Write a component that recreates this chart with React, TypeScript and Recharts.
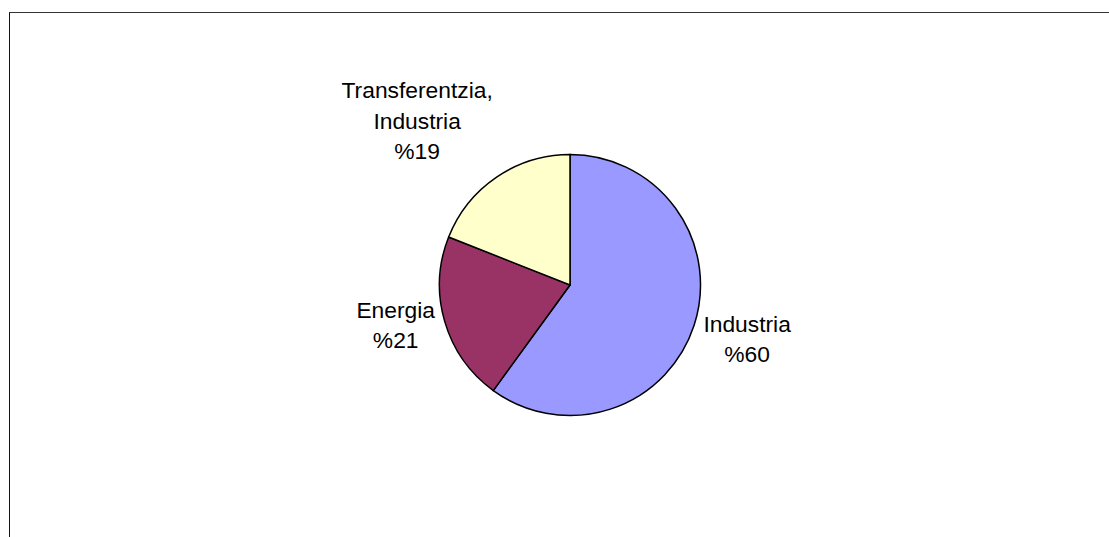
import { Cell, Pie, PieChart } from "recharts";

const sectors = ["Industria", "Energia", "Transferentzia, Industria"];
const shares = [60, 21, 19];
const colors = ["#9999FF", "#993366", "#FFFFCC"];

const data = sectors.map((name, i) => ({ name, value: shares[i] }));

// label box nudges, relative to the point on the rim at the slice's mid angle
const nudge: Record<string, { dx: number; dy: number }> = {
  Industria: { dx: 53, dy: 6.5 },
  Energia: { dx: -49, dy: -3.5 },
  "Transferentzia, Industria": { dx: -79.5, dy: -79 },
};

const RAD = Math.PI / 180;

function renderLabel(props: any) {
  const { cx, cy, midAngle, outerRadius, name, value } = props;
  const x = cx + outerRadius * Math.cos(-midAngle * RAD);
  const y = cy + outerRadius * Math.sin(-midAngle * RAD);
  const n = nudge[name] ?? { dx: 0, dy: 0 };
  const lines =
    name.indexOf(",") >= 0
      ? [name.split(",")[0] + ",", name.split(",")[1].trim()]
      : [name];
  lines.push(`%${value}`);
  const tx = x + n.dx;
  return (
    <text
      x={tx}
      y={y + n.dy}
      textAnchor="middle"
      fill="#000"
      fontSize={22.8}
      fontFamily="'Liberation Sans', Arial, sans-serif"
    >
      {lines.map((l, i) => (
        <tspan key={i} x={tx} dy={i === 0 ? 0 : 30.5}>
          {l}
        </tspan>
      ))}
    </text>
  );
}

export default function App() {
  return (
    <div
      style={{
        position: "absolute",
        left: 0,
        top: 0,
        width: 1109,
        height: 537,
        overflow: "hidden",
        background: "#fff",
      }}
    >
      <div
        style={{
          position: "absolute",
          left: 9,
          top: 12,
          width: 1200,
          height: 600,
          borderLeft: "1px solid #111",
          borderTop: "1.5px solid #333",
        }}
      />
      <div style={{ position: "absolute", left: 0, top: 0 }}>
        <PieChart
          width={1109}
          height={537}
          margin={{ top: 0, right: 0, bottom: 0, left: 0 }}
        >
          <Pie
            data={data}
            dataKey="value"
            nameKey="name"
            cx={570}
            cy={285}
            outerRadius={130.5}
            startAngle={90}
            endAngle={-270}
            stroke="#000"
            strokeWidth={1.5}
            label={renderLabel}
            labelLine={false}
            isAnimationActive={false}
          >
            {data.map((d, i) => (
              <Cell key={d.name} fill={colors[i]} />
            ))}
          </Pie>
        </PieChart>
      </div>
    </div>
  );
}
